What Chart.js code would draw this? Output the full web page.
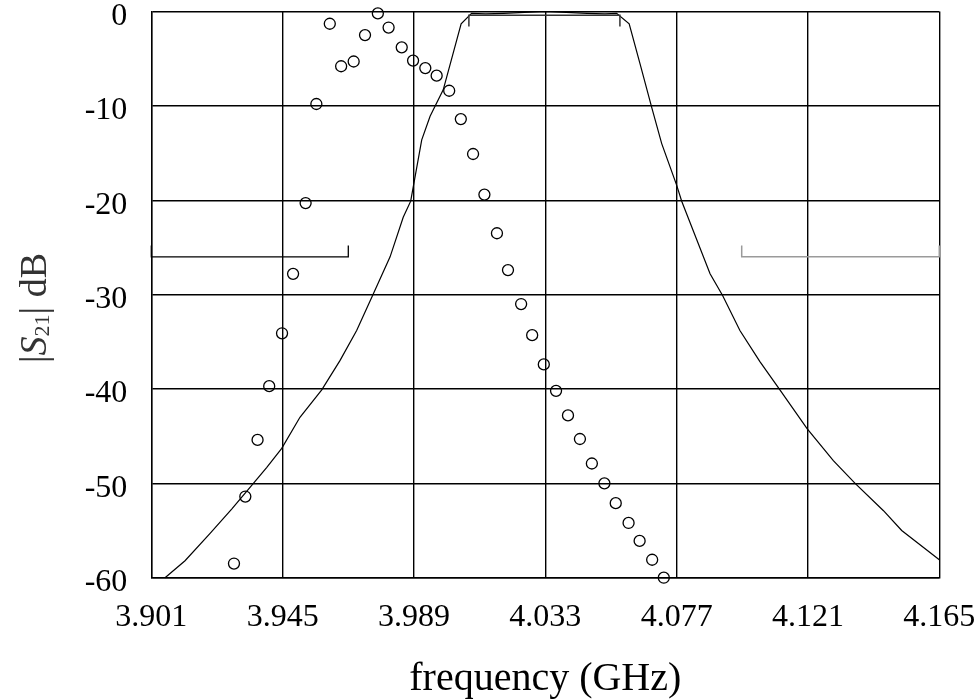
<!DOCTYPE html>
<html><head><meta charset="utf-8">
<script src="https://cdn.jsdelivr.net/npm/chart.js@4/dist/chart.umd.min.js"></script>
<style>html,body{margin:0;padding:0;background:#fff;} #wrap{width:976px;height:699px;position:relative;}</style>
</head><body><div id="wrap"><canvas id="c" width="976" height="699"></canvas></div>
<script>
// Axis ticks
const xTickValues = [3.901, 3.945, 3.989, 4.033, 4.077, 4.121, 4.165];
const yTickValues = [0, -10, -20, -30, -40, -50, -60];

// Simulated |S21| (solid line)
const simFreq = [3.9056, 3.9123, 3.9207, 3.9280, 3.9352, 3.9397, 3.9447, 3.9508, 3.9581, 3.9642, 3.9698, 3.9754, 3.9810, 3.9854, 3.9879, 3.9916, 3.9944, 3.9988, 4.0048, 4.0083, 4.0130, 4.0190, 4.0260, 4.0330, 4.0400, 4.0470, 4.0530, 4.0569, 4.0611, 4.0647, 4.0686, 4.0720, 4.0770, 4.0787, 4.0882, 4.0924, 4.0982, 4.1049, 4.1116, 4.1207, 4.1295, 4.1368, 4.1463, 4.1524, 4.1650];
const simS21 = [-60.0, -58.2, -55.3, -52.7, -50.0, -48.3, -46.3, -43.0, -40.1, -37.0, -33.8, -29.9, -26.0, -21.8, -20.1, -13.6, -11.1, -8.3, -1.3, -0.2, -0.25, -0.2, -0.1, 0.0, -0.1, -0.2, -0.25, -0.2, -1.3, -5.5, -10.1, -14.0, -18.4, -20.1, -27.8, -30.1, -33.8, -37.1, -40.1, -44.2, -47.6, -50.0, -52.9, -55.0, -58.1];

// Measured |S21| (circles)
const measFreq = [3.9287, 3.9325, 3.9366, 3.9405, 3.9448, 3.9485, 3.9527, 3.9563, 3.9608, 3.9646, 3.9688, 3.9726, 3.9769, 3.9805, 3.9849, 3.9887, 3.9928, 3.9966, 4.0008, 4.0047, 4.0088, 4.0126, 4.0168, 4.0205, 4.0249, 4.0286, 4.0325, 4.0366, 4.0406, 4.0446, 4.0486, 4.0528, 4.0566, 4.0609, 4.0646, 4.0688, 4.0727];
const measS21 = [-58.5, -51.4, -45.4, -39.7, -34.1, -27.8, -20.3, -9.8, -1.3, -5.8, -5.3, -2.5, -0.2, -1.7, -3.8, -5.2, -6.0, -6.8, -8.4, -11.4, -15.1, -19.4, -23.5, -27.4, -31.0, -34.3, -37.4, -40.2, -42.8, -45.3, -47.9, -50.0, -52.1, -54.2, -56.1, -58.1, -60.0];

// Specification masks
const maskLowFreq = [3.901, 3.901, 3.967, 3.967];
const maskLowDb = [-24.8, -26.0, -26.0, -24.8];
const maskHighFreq = [4.0988, 4.0988, 4.165, 4.165];
const maskHighDb = [-24.8, -26.0, -26.0, -24.8];
const maskPassFreq = [4.0074, 4.0074, 4.0580, 4.0580];
const maskPassDb = [-1.6, -0.4, -0.4, -1.6];

const pts = (xs, ys) => xs.map((x, i) => ({x: x, y: ys[i]}));

const CH = 699;
const PLOT_LEFT = 151.3, PLOT_RIGHT = 939.3, PLOT_TOP = 11.5, PLOT_BOTTOM = 577.7;

const yTitlePlugin = {
  id: 'yTitle',
  afterDraw(chart) {
    const ctx = chart.ctx;
    const size = 38;
    const sub = 22;
    const parts = [
      {t: '|', f: `${size}px "Liberation Serif"`, dy: 0},
      {t: 'S', f: `italic ${size}px "Liberation Serif"`, dy: 0},
      {t: '21', f: `${sub}px "Liberation Serif"`, dy: 7},
      {t: '|', f: `${size}px "Liberation Serif"`, dy: 0},
      {t: ' dB', f: `${size}px "Liberation Serif"`, dy: 0}
    ];
    ctx.save();
    let total = 0;
    parts.forEach(p => { ctx.font = p.f; p.w = ctx.measureText(p.t).width; total += p.w; });
    ctx.translate(36, 308);
    ctx.rotate(-Math.PI / 2);
    ctx.fillStyle = '#333';
    ctx.textBaseline = 'middle';
    ctx.textAlign = 'left';
    let x = -total / 2;
    parts.forEach(p => { ctx.font = p.f; ctx.fillText(p.t, x, p.dy); x += p.w; });
    ctx.restore();
  }
};

new Chart(document.getElementById('c'), {
  type: 'scatter',
  data: {
    datasets: [
      {label: 'simulated', data: pts(simFreq, simS21), showLine: true, borderColor: '#000', borderWidth: 1.2, pointRadius: 0, tension: 0, clip: false, order: 2},
      {label: 'measured', data: pts(measFreq, measS21), showLine: false, borderColor: '#000', backgroundColor: 'rgba(0,0,0,0)', borderWidth: 1.3, pointRadius: 5.5, pointStyle: 'circle', clip: false, order: 1},
      {label: 'mask low', data: pts(maskLowFreq, maskLowDb), showLine: true, borderColor: '#000', borderWidth: 1.3, pointRadius: 0, tension: 0, clip: false},
      {label: 'mask high', data: pts(maskHighFreq, maskHighDb), showLine: true, borderColor: '#9a9a9a', borderWidth: 1.5, pointRadius: 0, tension: 0, clip: false},
      {label: 'mask pass', data: pts(maskPassFreq, maskPassDb), showLine: true, borderColor: '#333', borderWidth: 1.5, pointRadius: 0, tension: 0, clip: false}
    ]
  },
  options: {
    responsive: false,
    animation: false,
    devicePixelRatio: 1,
    layout: {padding: {left: 0, top: PLOT_TOP, right: 976 - PLOT_RIGHT, bottom: 0}},
    plugins: {legend: {display: false}, tooltip: {enabled: false}},
    scales: {
      x: {
        type: 'linear', position: 'bottom',
        min: xTickValues[0], max: xTickValues[xTickValues.length - 1],
        afterBuildTicks(scale) { scale.ticks = xTickValues.map(v => ({value: v})); },
        afterFit(scale) { scale.height = CH - PLOT_BOTTOM; scale.paddingLeft = 0; scale.paddingRight = 0; },
        grid: {color: '#000', lineWidth: 1.4, drawTicks: false},
        border: {color: '#000', width: 1.4},
        ticks: {padding: 21, color: '#000', font: {family: 'Liberation Serif', size: 32}, maxRotation: 0, autoSkip: false,
          callback: (v) => v.toFixed(3)},
        title: {display: true, text: 'frequency (GHz)', color: '#000', font: {family: 'Liberation Serif', size: 40, lineHeight: 1.0}, padding: {top: 0, bottom: 0}}
      },
      y: {
        type: 'linear', position: 'left',
        min: -60, max: 0,
        afterBuildTicks(scale) { scale.ticks = yTickValues.map(v => ({value: v})); },
        afterFit(scale) { scale.width = PLOT_LEFT; scale.paddingTop = 0; scale.paddingBottom = 0; },
        grid: {color: '#000', lineWidth: 1.4, drawTicks: false},
        border: {color: '#000', width: 1.4},
        ticks: {padding: 24, labelOffset: 5, color: '#000', font: {family: 'Liberation Serif', size: 32}, autoSkip: false,
          callback: (v) => String(v)}
      }
    }
  },
  plugins: [yTitlePlugin]
});
</script>
</body></html>
